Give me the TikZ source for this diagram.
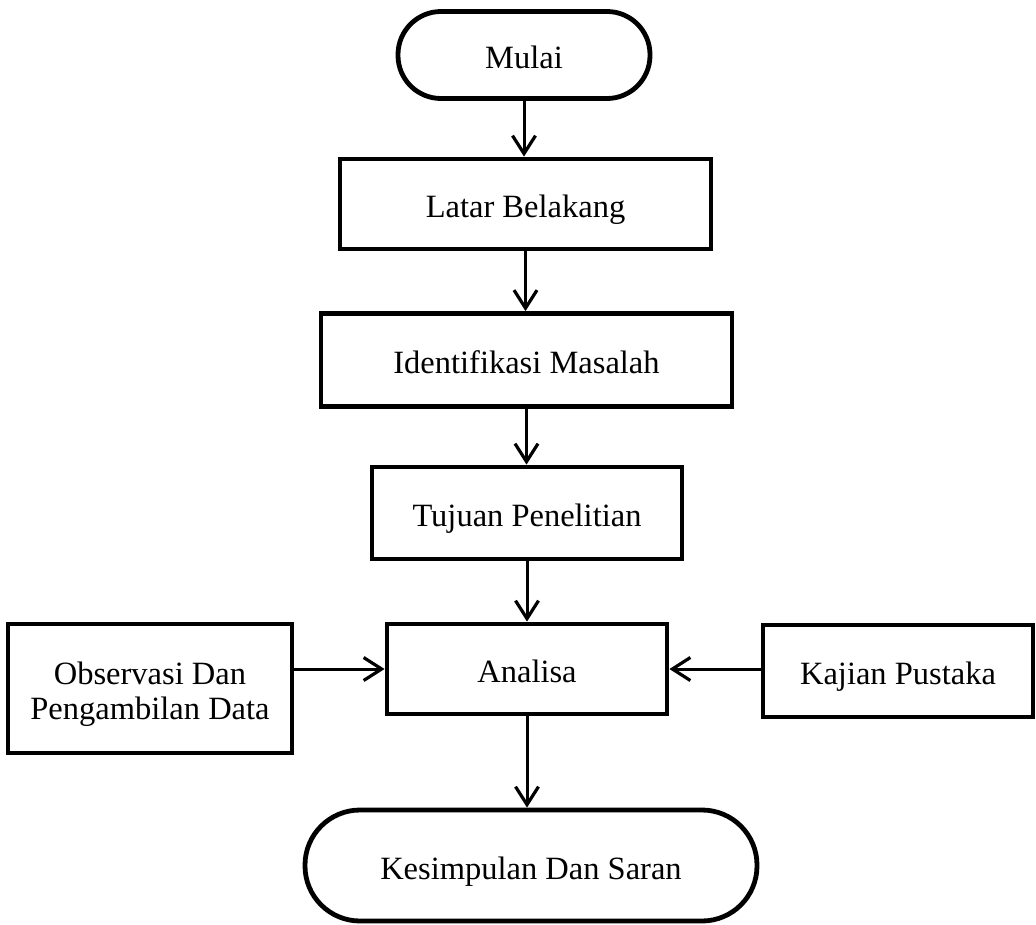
\documentclass[tikz,border=0pt]{standalone}
\usepackage{fontspec}
\setmainfont{Liberation Serif}[Ligatures=NoCommon]
\usetikzlibrary{arrows.meta}
\begin{document}
\begin{tikzpicture}[x=1pt,y=-1pt,
  box/.style={draw, line width=4.8pt, inner sep=0pt, align=center,
    font=\fontsize{32.5}{35}\selectfont},
  one/.style={box, text height=30pt, text depth=3pt},
  term/.style={one, rounded corners=#1},
  conn/.style={line width=3pt, -{Straight Barb[length=18pt,width=23pt,line width=3.2pt]}}]
\useasboundingbox (0,0) rectangle (1036,924);
\node[term=43pt, minimum width=252pt, minimum height=87pt] (mulai) at (524,55) {Mulai};
\node[one, minimum width=371pt, minimum height=90pt] (latar) at (525.5,204) {Latar Belakang};
\node[one, minimum width=411pt, minimum height=93pt] (ident) at (526.5,360) {Identifikasi Masalah};
\node[one, minimum width=310pt, minimum height=92pt] (tujuan) at (527,513) {Tujuan Penelitian};
\node[one, minimum width=280pt, minimum height=90pt] (analisa) at (527,669) {Analisa};
\node[box, minimum width=284pt, minimum height=129pt] (obs) at (150,688.5)
  {\raisebox{-6pt}[\height][\depth]{\begin{tabular}{@{}c@{}}Observasi Dan\\Pengambilan Data\end{tabular}}};
\node[one, minimum width=270pt, minimum height=92pt] (kajian) at (898,671) {Kajian Pustaka};
\node[term=55pt, minimum width=452pt, minimum height=111pt] (kesim) at (531,865.5) {Kesimpulan Dan Saran};
\draw[conn] (mulai.south) -- (mulai.south |- latar.north);
\draw[conn] (latar.south) -- (latar.south |- ident.north);
\draw[conn] (ident.south) -- (ident.south |- tujuan.north);
\draw[conn] (tujuan.south) -- (tujuan.south |- analisa.north);
\draw[conn] (analisa.south) -- (analisa.south |- kesim.north);
\draw[conn] (analisa.west -| obs.east) -- (analisa.west);
\draw[conn] (analisa.east -| kajian.west) -- (analisa.east);
\end{tikzpicture}
\end{document}
